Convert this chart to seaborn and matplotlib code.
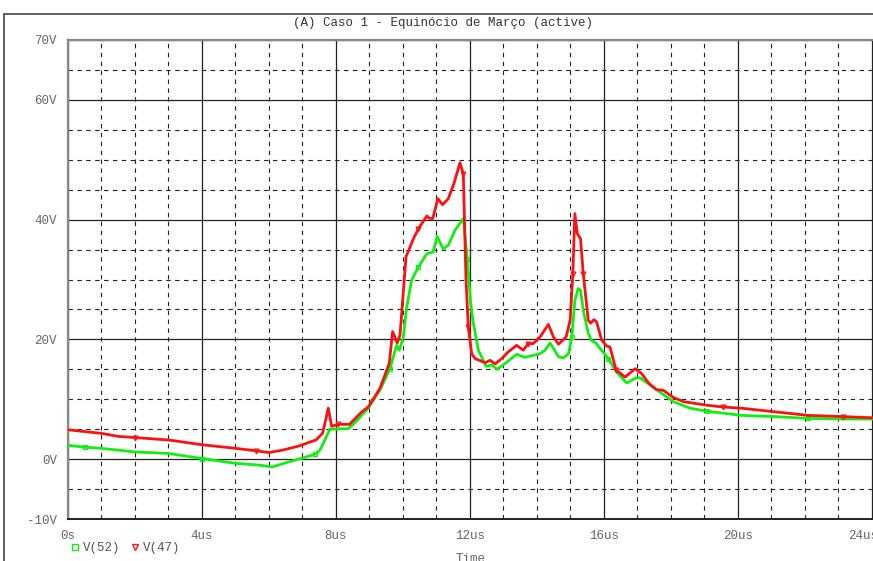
import numpy as np
import pandas as pd
import seaborn as sns
import matplotlib.pyplot as plt
import matplotlib.transforms as mtransforms
from matplotlib.lines import Line2D
from matplotlib.patches import Rectangle
from matplotlib.ticker import MultipleLocator, FixedLocator

# V(47) - red trace (time in us, volts)
red_t = [0, 0.5, 1.0, 1.5, 2.0, 3.0, 4.0, 5.0, 5.6, 6.0, 6.4, 6.9, 7.4, 7.6,
         7.77, 7.87, 8.07, 8.4, 8.77, 8.96, 9.31, 9.59, 9.69, 9.83, 9.91,
         10.09, 10.31, 10.46, 10.71, 10.79, 10.89, 11.04, 11.18, 11.35, 11.52,
         11.7, 11.8, 11.88, 11.95, 12.05, 12.15, 12.45, 12.6, 12.75, 12.95,
         13.14, 13.39, 13.59, 13.74, 13.89, 14.09, 14.34, 14.49, 14.64, 14.87,
         14.99, 15.07, 15.13, 15.2, 15.3, 15.38, 15.53, 15.6, 15.7, 15.78,
         15.93, 16.08, 16.18, 16.36, 16.63, 16.93, 17.12, 17.35, 17.57, 17.77,
         18.07, 18.37, 19.07, 19.56, 20.11, 21.1, 22.1, 23.14, 24.04]
red_v = [4.9, 4.6, 4.3, 3.8, 3.6, 3.2, 2.4, 1.8, 1.4, 1.1, 1.5, 2.2, 3.2, 4.3,
         8.5, 5.5, 5.8, 5.8, 7.9, 8.7, 11.8, 16.0, 21.3, 19.4, 20.7,
         33.8, 36.8, 38.5, 40.6, 40.2, 40.2, 43.5, 42.5, 43.5, 46.0,
         49.5, 47.7, 30.0, 22.0, 17.6, 16.8, 16.1, 16.5, 15.9, 16.8,
         17.9, 19.0, 18.2, 19.3, 19.3, 20.4, 22.5, 20.4, 19.2, 20.4,
         23.2, 31.0, 41.0, 37.7, 36.8, 31.0, 23.2, 22.7, 23.3, 22.9,
         19.9, 18.9, 18.7, 14.9, 13.7, 15.1, 14.3, 12.6, 11.6, 11.5,
         10.3, 9.6, 9.0, 8.7, 8.5, 7.9, 7.3, 7.1, 6.9]

# V(52) - green trace
green_t = [0, 0.5, 1.0, 2.0, 3.0, 4.0, 5.0, 5.7, 6.1, 6.5, 6.95, 7.37, 7.52,
           7.82, 8.37, 8.62, 8.96, 9.31, 9.61, 9.81, 9.89, 10.01, 10.11, 10.26,
           10.46, 10.71, 10.9, 11.02, 11.2, 11.35, 11.55, 11.8, 11.92, 12.02,
           12.1, 12.25, 12.48, 12.65, 12.81, 13.1, 13.39, 13.64, 14.09, 14.24,
           14.39, 14.51, 14.64, 14.79, 14.94, 15.04, 15.13, 15.23, 15.3, 15.38,
           15.53, 15.63, 15.76, 15.88, 16.13, 16.38, 16.68, 16.93, 17.07, 17.37,
           17.67, 18.07, 18.57, 19.07, 20.11, 21.1, 22.1, 23.14, 24.04]
green_v = [2.3, 2.0, 1.8, 1.2, 0.95, 0.1, -0.7, -1.0, -1.3, -0.6, 0.1, 0.8, 1.5,
           5.0, 5.1, 6.4, 8.5, 11.5, 15.1, 19.0, 18.2, 20.4, 25.4, 29.9,
           32.1, 34.3, 34.6, 37.2, 35.1, 35.7, 38.2, 40.2, 33.5, 26.0,
           22.7, 18.2, 15.5, 15.7, 15.0, 16.2, 17.5, 17.0, 17.6, 18.2,
           19.4, 18.3, 17.1, 16.9, 17.6, 20.4, 26.5, 28.5, 28.2, 24.9,
           21.0, 19.8, 19.4, 18.5, 16.8, 14.5, 12.7, 13.5, 13.6, 12.4,
           11.2, 9.6, 8.5, 8.0, 7.3, 7.1, 6.8, 6.7, 6.7]

# times where the probe draws its small symbols
green_marks = [0.5, 4.0, 7.37, 9.61, 10.46, 11.92, 15.04, 16.13, 19.07, 22.1]
red_marks = [2.0, 5.6, 8.07, 10.46, 11.8, 11.95, 13.74, 15.07, 15.38, 16.36, 19.56, 23.14]

y_ticks = [-10, 0, 20, 40, 60, 70]
y_labels = ['-10V', '0V', '20V', '40V', '60V', '70V']
x_ticks = [0, 4, 8, 12, 16, 20, 24]
x_labels = ['0s', '4us', '8us', '12us', '16us', '20us', '24us']

df_r = pd.DataFrame({'t': red_t, 'v': red_v})
df_g = pd.DataFrame({'t': green_t, 'v': green_v})

sns.set_style('white')
plt.rcParams['font.family'] = ['Liberation Mono', 'DejaVu Sans Mono']

W, H = 873, 561
fig = plt.figure(figsize=(W / 100, H / 100), dpi=100)
ax = fig.add_axes([68 / W, 1 - 519 / H, 805 / W, 479 / H])

gcol = '#11ee11'
rcol = '#ff1010'


def idx(ts, marks):
    ts = np.asarray(ts)
    return [int(np.abs(ts - m).argmin()) for m in marks]


sns.lineplot(data=df_g, x='t', y='v', ax=ax, color=gcol, lw=2.0, sort=False,
             marker='s', markersize=3.5, markerfacecolor='none', markeredgecolor=gcol,
             markeredgewidth=0.9, markevery=idx(green_t, green_marks), zorder=3)
sns.lineplot(data=df_r, x='t', y='v', ax=ax, color=rcol, lw=2.0, sort=False,
             marker='v', markersize=3.5, markerfacecolor='none', markeredgecolor=rcol,
             markeredgewidth=0.9, markevery=idx(red_t, red_marks), zorder=4)

ax.set_xlim(0, 24.03)
ax.set_ylim(-10, 70)
ax.xaxis.set_major_locator(FixedLocator(x_ticks))
ax.xaxis.set_minor_locator(MultipleLocator(1))
ax.yaxis.set_major_locator(FixedLocator(y_ticks))
ax.yaxis.set_minor_locator(MultipleLocator(5))
ax.set_xticklabels(x_labels)
ax.set_yticklabels(y_labels)
ax.tick_params(which='major', direction='out', length=5, width=1, color='#444444',
               labelsize=9, labelcolor='#666666', pad=3)
ax.tick_params(which='minor', length=0)

# last time label sits a little left, like the probe window
last = ax.get_xticklabels()[-1]
last.set_transform(last.get_transform() + mtransforms.ScaledTranslation(-0.09, 0, fig.dpi_scale_trans))

ax.grid(which='major', color='#222222', lw=0.9, ls='-')
ax.grid(which='minor', color='#222222', lw=0.8, ls=(0, (4, 4)))
ax.set_axisbelow(True)

ax.spines['right'].set_visible(False)
ax.spines['top'].set_color('#888888')
ax.spines['top'].set_linewidth(1.6)
ax.spines['left'].set_color('#888888')
ax.spines['left'].set_linewidth(1.6)
ax.spines['bottom'].set_color('#222222')
ax.spines['bottom'].set_linewidth(1.4)
ax.set_xlabel('')
ax.set_ylabel('')

# outer window frame
fig.patches.append(Rectangle((4 / W, -0.1), 1.2, 1.1 - 14 / H, transform=fig.transFigure,
                             fill=False, ec='#444444', lw=1.2))

fig.text(443 / W, 1 - 23 / H, '(A) Caso 1 - Equinócio de Março (active)',
         ha='center', va='center', fontsize=9, color='#333333')
fig.text(471 / W, 1 - 553 / H, 'Time', ha='center', va='top', fontsize=9, color='#666666')

handles = [Line2D([], [], ls='none', marker='s', markersize=4, markerfacecolor='none',
                  markeredgecolor=gcol, label='V(52)'),
           Line2D([], [], ls='none', marker='v', markersize=4, markerfacecolor='none',
                  markeredgecolor=rcol, label='V(47)')]
fig.legend(handles=handles, loc='center left', bbox_to_anchor=(62 / W, 1 - 548 / H),
           ncol=2, frameon=False, fontsize=9, handletextpad=0.2, columnspacing=0.6,
           handlelength=1.0, borderpad=0, labelcolor='#555555')

fig.savefig('out.png', dpi=100)
